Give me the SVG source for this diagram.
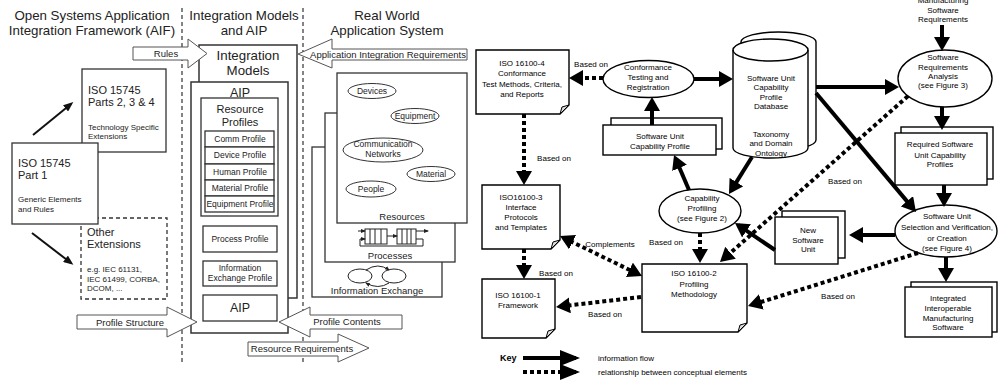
<svg xmlns="http://www.w3.org/2000/svg" width="1001" height="383" viewBox="0 0 1001 383">
<defs>
<marker id="ah" viewBox="0 0 14 16" markerWidth="14" markerHeight="16" refX="10" refY="8" orient="auto-start-reverse" markerUnits="userSpaceOnUse"><path d="M0,0L14,8L0,16Z" fill="#000"/></marker>
<marker id="ak" viewBox="0 0 20 16" markerWidth="20" markerHeight="16" refX="16" refY="8" orient="auto" markerUnits="userSpaceOnUse"><path d="M0,0L20,8L0,16Z" fill="#000"/></marker>
<marker id="as" viewBox="0 0 10 8" markerWidth="10" markerHeight="8" refX="7" refY="4" orient="auto" markerUnits="userSpaceOnUse"><path d="M0,0L10,4L0,8Z" fill="#111"/></marker>
<marker id="at" viewBox="0 0 5 4" markerWidth="5" markerHeight="4" refX="4" refY="2" orient="auto" markerUnits="userSpaceOnUse"><path d="M0,0L5,2L0,4Z" fill="#222"/></marker>
</defs>
<style>
text{font-family:"Liberation Sans",Arial,Helvetica,sans-serif;fill:#000}
.h{font-size:13.3px;fill:#222;text-anchor:middle}
.m{font-size:11px;fill:#222}
.c{text-anchor:middle}
.s8{font-size:8.5px;fill:#222}
.s9{font-size:9.5px;fill:#222}
.s8r{font-size:8px}
.l{fill:#fff;stroke:#333;stroke-width:1.3}
.ld{fill:#fff;stroke:#333;stroke-width:1.3;stroke-dasharray:4 3}
.vd{fill:none;stroke:#333;stroke-width:1.2;stroke-dasharray:4 3}
.ba{fill:#fff;stroke:#555;stroke-width:1}
.r{fill:#fff;stroke:#000;stroke-width:1.4}
.fold{fill:#ddd;stroke:#000;stroke-width:1}
.sol{stroke:#000;stroke-width:4;fill:none;marker-end:url(#ah)}
.dot{stroke:#000;stroke-width:4;stroke-dasharray:4 3;fill:none;marker-end:url(#ah)}
.thin{stroke:#111;stroke-width:2;fill:none;marker-end:url(#as)}
.ic{stroke:#222;stroke-width:1;fill:none}
</style>

<g id="columns">
<line class="vd" x1="182" y1="8" x2="182" y2="365"/>
<line class="vd" x1="303" y1="8" x2="303" y2="365"/>
<text class="h" x="92" y="20">Open Systems Application</text>
<text class="h" x="92" y="35">Integration Framework (AIF)</text>
<text class="h" x="244" y="20">Integration Models</text>
<text class="h" x="244" y="35">and AIP</text>
<text class="h" x="387" y="20">Real World</text>
<text class="h" x="387" y="35">Application System</text>
</g>

<g id="iso15745-parts234">
<rect class="l" x="82" y="69" width="84" height="83"/>
<text class="m" x="88" y="94">ISO 15745</text>
<text class="m" x="88" y="106">Parts 2, 3 &amp; 4</text>
<text class="s8" x="88" y="130" style="font-size:8px">Technology Specific</text>
<text class="s8" x="88" y="139" style="font-size:8px">Extensions</text>
</g>
<g id="other-extensions">
<rect class="ld" x="81" y="218" width="86" height="81"/>
<text class="m" x="87" y="236">Other</text>
<text class="m" x="87" y="248">Extensions</text>
<text class="s8" x="87" y="272" style="font-size:8px">e.g.  IEC 61131,</text>
<text class="s8" x="87" y="282" style="font-size:8px">IEC 61499, CORBA,</text>
<text class="s8" x="87" y="291" style="font-size:8px">DCOM, ...</text>
</g>
<g id="iso15745-part1">
<rect class="l" x="12" y="143" width="86" height="81"/>
<text class="m" x="18" y="167">ISO 15745</text>
<text class="m" x="18" y="179">Part 1</text>
<text class="s8" x="18" y="202" style="font-size:8px">Generic Elements</text>
<text class="s8" x="18" y="212" style="font-size:8px">and Rules</text>
</g>

<g id="integration-models">
<rect class="l" x="199" y="45" width="98" height="253" style="stroke-width:1.5"/>
<text class="h" x="248" y="60">Integration</text>
<text class="h" x="248" y="75">Models</text>
</g>
<g id="aip">
<rect class="l" x="191" y="82" width="97" height="251" style="stroke-width:1.5"/>
<text class="h" x="240" y="97" style="font-size:12.5px">AIP</text>
<rect class="l" x="201" y="98" width="77" height="118"/>
<text class="m c" x="240" y="113">Resource</text>
<text class="m c" x="240" y="126">Profiles</text>
<rect class="l" x="205" y="131" width="69" height="16"/>
<rect class="l" x="205" y="147" width="69" height="17"/>
<rect class="l" x="205" y="164" width="69" height="16"/>
<rect class="l" x="205" y="180" width="69" height="16"/>
<rect class="l" x="205" y="196" width="69" height="16"/>
<text class="s8 c" x="240" y="142">Comm Profile</text>
<text class="s8 c" x="240" y="158">Device Profile</text>
<text class="s8 c" x="240" y="175">Human Profile</text>
<text class="s8 c" x="240" y="191">Material Profile</text>
<text class="s8 c" x="240" y="207">Equipment Profile</text>
<rect class="l" x="203" y="226" width="74" height="26"/>
<text class="s8 c" x="240" y="242">Process Profile</text>
<rect class="l" x="203" y="261" width="74" height="25"/>
<text class="s8 c" x="240" y="271">Information</text>
<text class="s8 c" x="240" y="281">Exchange Profile</text>
<rect class="l" x="203" y="295" width="74" height="26"/>
<text class="h" x="240" y="312" style="font-size:12.5px">AIP</text>
</g>

<g id="real-world">
<rect class="l" x="312" y="147" width="130" height="150"/>
<rect class="l" x="325" y="113" width="130" height="149"/>
<rect class="l" x="337" y="73" width="130" height="150"/>
<ellipse class="l" cx="372" cy="91" rx="24" ry="7.5" style="stroke-width:1"/>
<text class="s8 c" x="372" y="94">Devices</text>
<ellipse class="l" cx="415" cy="116" rx="24" ry="7.5" style="stroke-width:1"/>
<text class="s8 c" x="415" y="119">Equipment</text>
<ellipse class="l" cx="383" cy="150" rx="40" ry="12" style="stroke-width:1"/>
<text class="s8 c" x="383" y="147">Communication</text>
<text class="s8 c" x="383" y="157">Networks</text>
<ellipse class="l" cx="431" cy="174" rx="24" ry="7.5" style="stroke-width:1"/>
<text class="s8 c" x="431" y="177">Material</text>
<ellipse class="l" cx="371" cy="189" rx="25" ry="8" style="stroke-width:1"/>
<text class="s8 c" x="371" y="192">People</text>
<text class="s9 c" x="402" y="220">Resources</text>
<rect class="ic" x="365" y="229" width="22" height="15"/>
<path class="ic" d="M370,229V244M375,229V244M381,229V244"/>
<rect class="ic" x="397" y="229" width="19" height="15"/>
<path class="ic" d="M402,229V244M407,229V244M411,229V244"/>
<path class="ic" d="M358,231H365" marker-end="url(#at)"/>
<path class="ic" d="M387,236H397" marker-end="url(#at)"/>
<path class="ic" d="M416,231H428" marker-end="url(#at)"/>
<path class="ic" d="M416,239H423V246H360V239H365" marker-end="url(#at)"/>
<text class="s9 c" x="390" y="259">Processes</text>
<ellipse class="ic" cx="360" cy="276" rx="12" ry="7"/>
<ellipse class="ic" cx="394" cy="276" rx="12" ry="7"/>
<path class="ic" d="M366,270Q378,262 389,270" marker-end="url(#at)"/>
<path class="ic" d="M389,283Q378,290 366,283" marker-end="url(#at)"/>
<text class="s9 c" x="377" y="294">Information Exchange</text>
</g>

<g id="block-arrows">
<path class="ba" d="M133,47H188V39L207,53.5L188,68V60H133Z"/>
<text class="s9 c" x="166" y="57">Rules</text>
<path class="ba" d="M467,49H332V39L298,54L332,68V60H467Z"/>
<text class="s9 c" x="388" y="58">Application Integration Requirements</text>
<path class="ba" d="M77,315H167V307L197,322L167,337V329H77Z"/>
<text class="s9 c" x="130" y="326">Profile Structure</text>
<path class="ba" d="M402,315H310V307L279,322L310,337V329H402Z"/>
<text class="s9 c" x="347" y="325">Profile Contents</text>
<path class="ba" d="M248,342H338V334L369,348L338,362V356H248Z"/>
<text class="s9 c" x="302" y="352">Resource Requirements</text>
</g>

<g id="left-arrows">
<line class="thin" x1="33" y1="135" x2="71" y2="104"/>
<line class="thin" x1="32" y1="233" x2="71" y2="263"/>
</g>

<g id="iso16100-4">
<path class="r" d="M476,50H569V105L560,114H476Z"/>
<path class="fold" d="M569,105L562,107L560,114Z"/>
<text class="s8r c" x="522" y="66">ISO 16100-4</text>
<text class="s8r c" x="522" y="76">Conformance</text>
<text class="s8r c" x="522" y="87">Test Methods, Criteria,</text>
<text class="s8r c" x="522" y="97">and Reports</text>
</g>
<g id="iso16100-3">
<path class="r" d="M482,185H560V240L551,249H482Z"/>
<path class="fold" d="M560,240L553,242L551,249Z"/>
<text class="s8r c" x="521" y="200">ISO16100-3</text>
<text class="s8r c" x="521" y="210">Interface</text>
<text class="s8r c" x="521" y="220">Protocols</text>
<text class="s8r c" x="521" y="230">and Templates</text>
</g>
<g id="iso16100-1">
<path class="r" d="M482,279H555V329L546,338H482Z"/>
<path class="fold" d="M555,329L548,331L546,338Z"/>
<text class="s8r c" x="518" y="298">ISO 16100-1</text>
<text class="s8r c" x="518" y="308">Framework</text>
</g>
<g id="iso16100-2">
<path class="r" d="M642,264H747V323L738,332H642Z"/>
<path class="fold" d="M747,323L740,325L738,332Z"/>
<text class="s8r c" x="694" y="276">ISO 16100-2</text>
<text class="s8r c" x="694" y="287">Profiling</text>
<text class="s8r c" x="694" y="297">Methodology</text>
</g>
<g id="conformance">
<ellipse class="r" cx="648.5" cy="79" rx="45.5" ry="18.5"/>
<text class="s8r c" x="648" y="70">Conformance</text>
<text class="s8r c" x="648" y="80">Testing and</text>
<text class="s8r c" x="648" y="90">Registration</text>
</g>
<g id="sucp">
<rect class="r" x="611" y="118" width="111" height="31"/>
<rect class="r" x="603" y="125" width="113" height="30"/>
<text class="s8r c" x="660" y="139">Software Unit</text>
<text class="s8r c" x="660" y="149">Capability Profile</text>
</g>
<g id="database">
<path class="r" d="M741,42A37.5,10 0 0 1 816,42V140A37.5,10 0 0 1 741,140Z"/>
<path class="r" d="M733,50V148A37.5,10 0 0 0 808,148V50A37.5,11 0 0 0 733,50Z"/>
<path class="r" style="fill:none" d="M733,50A37.5,11 0 0 0 808,50"/>
<text class="s8r c" x="771" y="81">Software Unit</text>
<text class="s8r c" x="771" y="90">Capability</text>
<text class="s8r c" x="771" y="100">Profile</text>
<text class="s8r c" x="771" y="109">Database</text>
<text class="s8r c" x="771" y="137">Taxonomy</text>
<text class="s8r c" x="771" y="146">and Domain</text>
<text class="s8r c" x="771" y="156">Ontology</text>
</g>
<g id="manufacturing-req">
<text class="s8r c" x="943" y="3">Manufacturing</text>
<text class="s8r c" x="943" y="13">Software</text>
<text class="s8r c" x="943" y="22">Requirements</text>
</g>
<g id="sra">
<ellipse class="r" cx="945" cy="78.5" rx="47" ry="28.5"/>
<text class="s8r c" x="943" y="60">Software</text>
<text class="s8r c" x="943" y="70">Requirements</text>
<text class="s8r c" x="943" y="79">Analysis</text>
<text class="s8r c" x="943" y="88">(see Figure 3)</text>
</g>
<g id="required">
<rect class="r" x="901" y="127" width="92" height="52"/>
<rect class="r" x="895" y="133" width="92" height="52"/>
<text class="s8r c" x="940" y="147">Required Software</text>
<text class="s8r c" x="940" y="158">Unit Capability</text>
<text class="s8r c" x="940" y="167">Profiles</text>
</g>
<g id="selection">
<ellipse class="r" cx="946" cy="231" rx="51" ry="26"/>
<text class="s8r c" x="947" y="219">Software Unit</text>
<text class="s8r c" x="947" y="230">Selection and Verification,</text>
<text class="s8r c" x="947" y="241">or Creation</text>
<text class="s8r c" x="947" y="251">(see Figure 4)</text>
</g>
<g id="integrated">
<rect class="r" x="911" y="282" width="86" height="50"/>
<rect class="r" x="905" y="287" width="87" height="50"/>
<text class="s8r c" x="948" y="301">Integrated</text>
<text class="s8r c" x="948" y="311">Interoperable</text>
<text class="s8r c" x="948" y="321">Manufacturing</text>
<text class="s8r c" x="948" y="330">Software</text>
</g>
<g id="new-unit">
<rect class="r" x="782" y="211" width="63" height="47"/>
<rect class="r" x="775" y="217" width="63" height="47"/>
<text class="s8r c" x="808" y="233">New</text>
<text class="s8r c" x="808" y="243">Software</text>
<text class="s8r c" x="808" y="252">Unit</text>
</g>
<g id="cap-profiling">
<ellipse class="r" cx="700" cy="211" rx="41" ry="22"/>
<text class="s8r c" x="702" y="201">Capability</text>
<text class="s8r c" x="702" y="211">Profiling</text>
<text class="s8r c" x="702" y="221">(see Figure 2)</text>
</g>

<g id="connectors">
<line class="sol" x1="652" y1="125" x2="652" y2="101"/>
<line class="sol" x1="694" y1="79" x2="729" y2="79"/>
<line class="sol" x1="816" y1="87" x2="895" y2="87"/>
<line class="sol" x1="816" y1="93" x2="913.4" y2="208.9"/>
<line class="sol" x1="752" y1="157" x2="731.1" y2="190.6"/>
<line class="sol" x1="689" y1="190" x2="675.6" y2="158.7"/>
<line class="sol" x1="775" y1="250" x2="738.3" y2="225.2"/>
<line class="sol" x1="895" y1="235" x2="853" y2="235"/>
<line class="sol" x1="942" y1="25" x2="942" y2="47"/>
<line class="sol" x1="942" y1="107" x2="942" y2="126"/>
<line class="sol" x1="944" y1="185" x2="944" y2="203"/>
<line class="sol" x1="946" y1="257" x2="946" y2="278"/>
<line class="dot" x1="603" y1="78" x2="573" y2="78"/>
<line class="dot" x1="524" y1="114" x2="524" y2="181"/>
<line class="dot" x1="524" y1="249" x2="524" y2="275"/>
<line class="dot" x1="563.6" y1="237.8" x2="638.4" y2="274.2" marker-start="url(#ah)"/>
<line class="dot" x1="641" y1="297" x2="560" y2="306.5"/>
<line class="dot" x1="700" y1="233" x2="700" y2="259"/>
<line class="dot" x1="908" y1="96" x2="723" y2="259.4"/>
<line class="dot" x1="918" y1="253" x2="751.8" y2="304.9"/>
<text class="s8r c" x="591" y="67">Based on</text>
<text class="s8r c" x="554" y="161">Based on</text>
<text class="s8r c" x="556" y="276">Based on</text>
<text class="s8r c" x="610" y="247">Complements</text>
<text class="s8r c" x="605" y="317">Based on</text>
<text class="s8r c" x="666" y="245">Based on</text>
<text class="s8r c" x="845" y="184">Based on</text>
<text class="s8r c" x="838" y="299">Based on</text>
</g>

<g id="key">
<text x="500" y="361" style="font-size:9px;font-weight:bold">Key</text>
<line x1="523" y1="358" x2="576" y2="358" stroke="#000" stroke-width="4" marker-end="url(#ak)"/>
<line x1="523" y1="372" x2="576" y2="372" stroke="#000" stroke-width="4" stroke-dasharray="4 3" marker-end="url(#ak)"/>
<text class="s8r" x="598" y="361">information flow</text>
<text class="s8r" x="598" y="375">relationship between conceptual elements</text>
</g>
</svg>
